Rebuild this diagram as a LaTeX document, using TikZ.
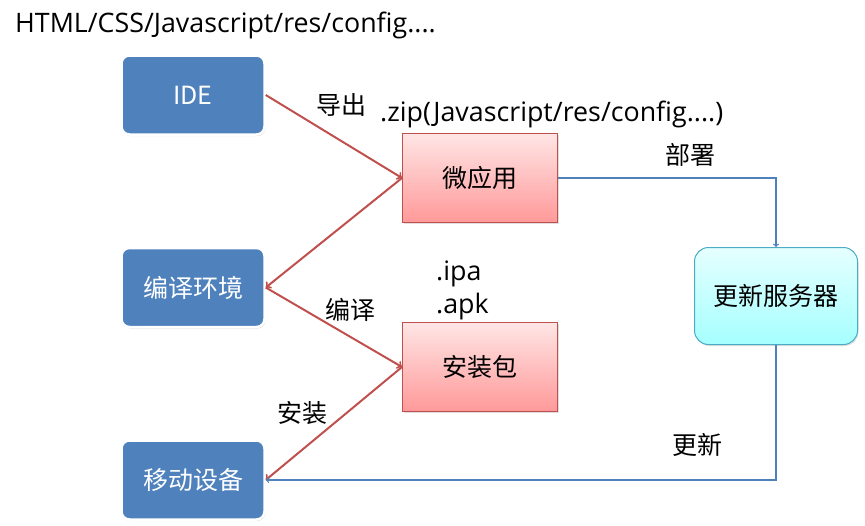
\documentclass[tikz,border=0pt]{standalone}
\usepackage{fontspec}
\setmainfont{Open Sans}
\newfontfamily\cjk{Noto Sans CJK SC}
\usetikzlibrary{arrows, positioning, calc, shadows}
\definecolor{boxblue}{HTML}{4F81BD}
\definecolor{boxred}{HTML}{C0504D}
\definecolor{srvedge}{HTML}{4BACC6}
\tikzstyle{client} = [rectangle, rounded corners=8pt, minimum width=143pt, minimum height=79pt, fill=boxblue, draw=white, line width=2.5pt, text=white, drop shadow={opacity=0.25, shadow xshift=1pt, shadow yshift=-1.5pt}, node font=\fontsize{25}{29}\selectfont\cjk]
\tikzstyle{package} = [rectangle, minimum width=155pt, minimum height=89pt, top color=red!10, bottom color=red!40, draw=boxred, line width=1pt, drop shadow={opacity=0.25, shadow xshift=1pt, shadow yshift=-1.5pt}, node font=\fontsize{25}{29}\selectfont\cjk]
\tikzstyle{server} = [rectangle, rounded corners=14pt, minimum width=163pt, minimum height=97pt, top color=cyan!10, bottom color=cyan!35, draw=srvedge, line width=1pt, drop shadow={opacity=0.25, shadow xshift=1pt, shadow yshift=-1.5pt}, node font=\fontsize{25}{29}\selectfont\cjk]
\tikzstyle{flow} = [line width=2pt, ->, >=to, draw=boxred]
\tikzstyle{push} = [line width=1.2pt, ->, >=to, draw=boxblue]
\tikzstyle{note} = [inner sep=0pt, node font=\fontsize{26.8}{33}\selectfont]
\tikzstyle{cnote} = [inner sep=0pt, node font=\fontsize{25}{29}\selectfont\cjk]

\begin{document}
\begin{tikzpicture}[x=1pt, y=-1pt]
    \useasboundingbox (0,0) rectangle (865,525);

    \node[client] (ide) at (193,95) {IDE};
    \node[client,below=111pt of ide] (env) {编译环境};
    \node[client,below=111pt of env] (device) {移动设备};
    \node[package] (app) at (480,178) {微应用};
    \node[package,below=99pt of app] (pkg) {安装包};
    \node[server] (update) at (776,296) {更新服务器};

    \node[note,anchor=west] (src) at (15,25) {HTML/CSS/Javascript/res/config....};
    \node[note,anchor=west] (zip) at (380,114) {.zip(Javascript/res/config....)};
    \node[note,anchor=west,align=left] (bin) at (436,290) {.ipa\\.apk};
    \node[cnote] (export) at (341,105) {导出};
    \node[cnote] (deploy) at (690,155) {部署};
    \node[cnote] (build) at (350,310) {编译};
    \node[cnote] (install) at (302,413) {安装};
    \node[cnote] (refresh) at (697,445) {更新};

    \draw[flow] (ide.east) -- (app.west);
    \draw[flow] (app.west) -- (env.east);
    \draw[flow] (env.east) -- (pkg.west);
    \draw[flow] (pkg.west) -- (device.east);
    \draw[push] (app.east) -| (update.north);
    \draw[push] (update.south) |- (device.east);
\end{tikzpicture}
\end{document}
